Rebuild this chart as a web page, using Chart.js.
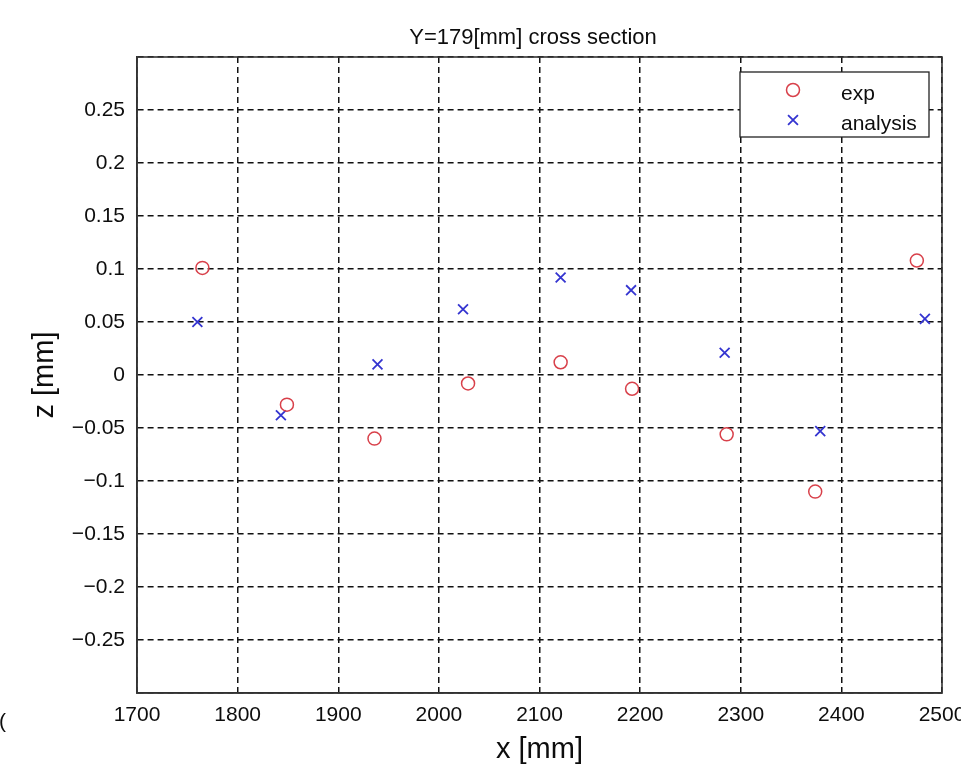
<!DOCTYPE html>
<html>
<head>
<meta charset="utf-8">
<script src="https://cdn.jsdelivr.net/npm/chart.js@4/dist/chart.umd.min.js"></script>
<style>
  html, body { margin: 0; padding: 0; background: #fff; }
  canvas { display: block; }
</style>
</head>
<body>
<canvas id="crossSectionChart" width="961" height="764"></canvas>
<script>
// values (x in mm, z in mm)
const expX = [1765, 1849, 1936, 2029, 2121, 2192, 2286, 2374, 2475];
const expZ = [0.101, -0.028, -0.060, -0.008, 0.012, -0.013, -0.056, -0.110, 0.108];
const analysisX = [1760, 1843, 1939, 2024, 2121, 2191, 2284, 2379, 2483];
const analysisZ = [0.050, -0.038, 0.010, 0.062, 0.092, 0.080, 0.021, -0.053, 0.053];

const xTicks = [1700, 1800, 1900, 2000, 2100, 2200, 2300, 2400, 2500];
const zTicks = [-0.25, -0.2, -0.15, -0.1, -0.05, 0, 0.05, 0.1, 0.15, 0.2, 0.25];

const chartTitle = "Y=179[mm] cross section";
const seriesNames = ["exp", "analysis"];

const FONT = "'Liberation Sans', Arial, sans-serif";
const INK = "#0d0d0d";
const RED = "#d8404a";
const BLUE = "#3434d0";

const toPoints = (xs, ys) => xs.map((x, i) => ({ x: x, y: ys[i] }));

const formatZ = (v) => {
  const r = Math.round(v * 100) / 100;
  if (r === 0) return "0";
  const s = String(Math.abs(r));
  return r < 0 ? "\u2212" + s : s;
};

// frame, title, legend box and the clipped character at the left edge
const matlabLook = {
  id: "matlabLook",
  beforeDatasetsDraw(chart) {
    const { ctx, chartArea } = chart;
    ctx.save();
    ctx.strokeStyle = "#333";
    ctx.lineWidth = 1.6;
    ctx.strokeRect(chartArea.left, chartArea.top, chartArea.right - chartArea.left, chartArea.bottom - chartArea.top);
    ctx.restore();
  },
  afterDraw(chart) {
    const { ctx } = chart;
    ctx.save();
    ctx.fillStyle = INK;
    ctx.font = "22px " + FONT;
    ctx.textAlign = "center";
    ctx.textBaseline = "middle";
    ctx.fillText(chartTitle, 533, 38);

    // legend
    const box = { x: 740, y: 72, w: 189, h: 65 };
    ctx.fillStyle = "#fff";
    ctx.fillRect(box.x, box.y, box.w, box.h);
    ctx.strokeStyle = "#222";
    ctx.lineWidth = 1.3;
    ctx.strokeRect(box.x, box.y, box.w, box.h);
    const rows = [90, 120];
    chart.data.datasets.forEach((ds, i) => {
      ctx.strokeStyle = ds.borderColor;
      ctx.fillStyle = "rgba(0,0,0,0)";
      ctx.lineWidth = ds.borderWidth;
      Chart.helpers.drawPoint(ctx, {
        pointStyle: ds.pointStyle,
        radius: ds.pointRadius,
        borderWidth: ds.borderWidth,
        rotation: 0
      }, 793, rows[i]);
      ctx.fillStyle = INK;
      ctx.font = "21px " + FONT;
      ctx.textAlign = "left";
      ctx.textBaseline = "middle";
      ctx.fillText(ds.label, 841, rows[i] + 4);
    });

    ctx.font = "21px " + FONT;
    ctx.textAlign = "left";
    ctx.fillText("(", -1, 722);
    ctx.restore();
  }
};

const ctx = document.getElementById("crossSectionChart");
new Chart(ctx, {
  type: "scatter",
  data: {
    datasets: [
      {
        label: seriesNames[0],
        data: toPoints(expX, expZ),
        pointStyle: "circle",
        pointRadius: 6.5,
        borderWidth: 1.5,
        borderColor: RED,
        backgroundColor: "rgba(0,0,0,0)"
      },
      {
        label: seriesNames[1],
        data: toPoints(analysisX, analysisZ),
        pointStyle: "crossRot",
        pointRadius: 7,
        borderWidth: 1.8,
        borderColor: BLUE,
        backgroundColor: BLUE
      }
    ]
  },
  options: {
    responsive: false,
    animation: false,
    events: [],
    layout: { padding: { top: 57, right: 19, bottom: 0, left: 0 } },
    plugins: {
      legend: { display: false },
      title: { display: false },
      tooltip: { enabled: false }
    },
    scales: {
      x: {
        type: "linear",
        min: 1700,
        max: 2500,
        afterFit: (scale) => {
          scale.height = 71;
          scale.paddingLeft = 0;
          scale.paddingRight = 0;
        },
        afterBuildTicks: (scale) => { scale.ticks = xTicks.map((v) => ({ value: v })); },
        ticks: {
          padding: 10,
          color: INK,
          font: { family: FONT, size: 21 },
          maxRotation: 0,
          autoSkip: false,
          callback: (v) => String(v)
        },
        grid: { color: "#111", lineWidth: 1.5, drawTicks: false },
        border: { display: true, color: "#333", width: 1.6, dash: [6, 4] },
        title: {
          display: true,
          text: "x [mm]",
          color: INK,
          font: { family: FONT, size: 29, lineHeight: 1 },
          padding: { top: 0, bottom: 0 }
        }
      },
      y: {
        type: "linear",
        min: -0.3,
        max: 0.3,
        afterFit: (scale) => {
          scale.width = 137;
          scale.paddingTop = 0;
          scale.paddingBottom = 0;
        },
        afterBuildTicks: (scale) => { scale.ticks = [-0.3].concat(zTicks, [0.3]).map((v) => ({ value: v })); },
        ticks: {
          padding: 12,
          color: INK,
          font: { family: FONT, size: 21 },
          autoSkip: false,
          callback: (v) => (Math.abs(v) > 0.29 ? "" : formatZ(v))
        },
        grid: { color: "#111", lineWidth: 1.5, drawTicks: false },
        border: { display: true, color: "#333", width: 1.6, dash: [6, 4] },
        title: {
          display: true,
          text: "z [mm]",
          color: INK,
          font: { family: FONT, size: 29, lineHeight: 1 },
          padding: { top: 30, bottom: 0 }
        }
      }
    }
  },
  plugins: [matlabLook]
});
</script>
</body>
</html>
